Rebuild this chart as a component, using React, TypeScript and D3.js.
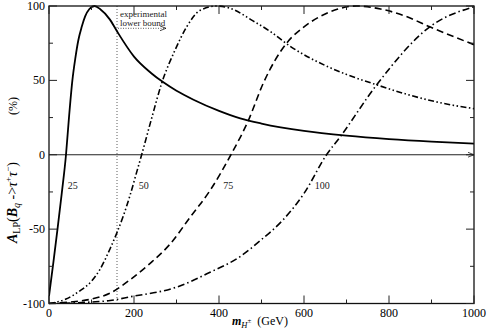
import { useEffect, useRef } from "react";
import * as d3 from "d3";

// tan beta = 25 (solid)
const m25 = [0, 10, 20, 30, 40, 47, 55, 62, 69, 77, 85, 95, 107, 120, 143, 160, 200, 240, 270, 300, 340, 400, 450, 500, 600, 700, 800, 900, 1000];
const a25 = [-95, -73, -50, -26, 0, 25, 50, 65, 77, 86, 93, 98, 100, 98, 91, 83, 66, 55, 48.5, 43, 37, 29.5, 24.5, 21, 16, 12.8, 10.5, 8.8, 7.5];

// tan beta = 50 (dash-dot-dot)
const m50 = [0, 40, 70, 100, 120, 144, 159, 175, 191, 206, 218, 242, 265, 296, 324, 355, 395, 426, 480, 520, 567, 650, 700, 771, 850, 920, 1000];
const a50 = [-100, -97, -92, -85, -77, -63, -53, -41, -27, -12, 0, 25, 48, 70, 86, 97, 100, 98.5, 90, 83, 73, 60, 54, 47, 40, 35, 31];

// tan beta = 75 (dashed)
const m75 = [0, 50, 100, 144, 191, 238, 285, 332, 379, 428, 469, 504, 559, 600, 638, 680, 724, 780, 840, 896, 1000];
const a75 = [-100, -99, -97, -93, -84, -73, -60, -42, -24, 0, 23, 48, 75, 86, 93, 98, 100, 98, 93, 86, 74];

// tan beta = 100 (dash-dot)
const m100 = [0, 100, 144, 191, 300, 379, 449, 500, 550, 600, 653, 685, 771, 896, 1000];
const a100 = [-100, -99, -98, -95.5, -89, -79, -68.6, -57, -44, -26, 0, 12, 47, 86, 99.5];

const xTicks = [0, 200, 400, 600, 800, 1000];
const xMinor = [100, 300, 500, 700, 900];
const yTicks = [-100, -50, 0, 50, 100];
const yMinor = [-75, -25, 25, 75];
const curveLabels = [
  { text: "25", m: 44, v: -23 },
  { text: "50", m: 211, v: -23 },
  { text: "75", m: 410, v: -23 },
  { text: "100", m: 625, v: -23 },
];
const boundMass = 160;

const W = 487;
const H = 334;
const font = "'Liberation Serif', 'DejaVu Serif', serif";

export default function App() {
  const ref = useRef<SVGSVGElement>(null);

  useEffect(() => {
    const svg = d3.select(ref.current);
    svg.selectAll("*").remove();

    const x = d3.scaleLinear().domain([0, 1000]).range([49, 474]);
    const y = d3.scaleLinear().domain([-100, 100]).range([303.5, 6]);

    const defs = svg.append("defs");
    defs
      .append("marker")
      .attr("id", "arr")
      .attr("viewBox", "0 0 10 10")
      .attr("refX", 10)
      .attr("refY", 5)
      .attr("markerWidth", 6)
      .attr("markerHeight", 6)
      .attr("markerUnits", "userSpaceOnUse")
      .attr("orient", "auto")
      .append("path")
      .attr("d", "M0,1 L10,5 L0,9")
      .attr("fill", "none")
      .attr("stroke", "#000")
      .attr("stroke-width", 1.2);

    defs
      .append("clipPath")
      .attr("id", "clip")
      .append("rect")
      .attr("x", x(0))
      .attr("y", y(100) - 1)
      .attr("width", x(1000) - x(0))
      .attr("height", y(-100) - y(100) + 2);

    // zero line with arrow
    svg
      .append("line")
      .attr("x1", x(0))
      .attr("x2", x(1000))
      .attr("y1", y(0))
      .attr("y2", y(0))
      .attr("stroke", "#222")
      .attr("stroke-width", 1)
      .attr("marker-end", "url(#arr)");

    // experimental lower bound
    svg
      .append("line")
      .attr("x1", x(boundMass))
      .attr("x2", x(boundMass))
      .attr("y1", y(100))
      .attr("y2", y(-100))
      .attr("stroke", "#333")
      .attr("stroke-width", 0.8)
      .attr("stroke-dasharray", "1,2");
    svg
      .append("line")
      .attr("x1", x(boundMass) + 1)
      .attr("x2", x(boundMass) + 49)
      .attr("y1", 28.3)
      .attr("y2", 28.3)
      .attr("stroke", "#333")
      .attr("stroke-width", 0.8)
      .attr("stroke-dasharray", "1,1.5")
      .attr("marker-end", "url(#arr)");
    const ann = svg
      .append("text")
      .attr("font-family", font)
      .attr("font-size", 9)
      .attr("fill", "#222");
    ann.append("tspan").attr("x", x(boundMass) + 3).attr("y", 17).text("experimental");
    ann.append("tspan").attr("x", x(boundMass) + 3).attr("y", 26).text("lower bound");

    const line = d3
      .line<[number, number]>()
      .x((d) => x(d[0]))
      .y((d) => y(d[1]))
      .curve(d3.curveMonotoneX);

    const series = [
      { m: m25, a: a25, dash: null, w: 1.8 },
      { m: m50, a: a50, dash: "6,2.5,1.5,2.5,1.5,2.5", w: 1.6 },
      { m: m75, a: a75, dash: "7,4", w: 1.6 },
      { m: m100, a: a100, dash: "7,3,1.5,3", w: 1.6 },
    ];
    const g = svg.append("g").attr("clip-path", "url(#clip)");
    series.forEach((s) => {
      const pts = s.m.map((v, i) => [v, s.a[i]] as [number, number]);
      g.append("path")
        .attr("d", line(pts))
        .attr("fill", "none")
        .attr("stroke", "#000")
        .attr("stroke-width", s.w)
        .attr("stroke-dasharray", s.dash);
    });

    // curve labels
    svg
      .selectAll("text.cl")
      .data(curveLabels)
      .join("text")
      .attr("class", "cl")
      .attr("x", (d) => x(d.m))
      .attr("y", (d) => y(d.v))
      .attr("font-family", font)
      .attr("font-size", 10)
      .attr("fill", "#222")
      .text((d) => d.text);

    // frame
    svg
      .append("rect")
      .attr("x", x(0))
      .attr("y", y(100))
      .attr("width", x(1000) - x(0))
      .attr("height", y(-100) - y(100))
      .attr("fill", "none")
      .attr("stroke", "#111")
      .attr("stroke-width", 1.3);

    const tk = svg.append("g").attr("stroke", "#222").attr("stroke-width", 1);
    const xt = [...xTicks.map((t) => ({ t, l: 8 })), ...xMinor.map((t) => ({ t, l: 4 }))];
    const yt = [...yTicks.map((t) => ({ t, l: 8 })), ...yMinor.map((t) => ({ t, l: 4 }))];
    xt.forEach(({ t, l }) => {
      tk.append("line").attr("x1", x(t)).attr("x2", x(t)).attr("y1", y(-100)).attr("y2", y(-100) - l);
      tk.append("line").attr("x1", x(t)).attr("x2", x(t)).attr("y1", y(100)).attr("y2", y(100) + l);
    });
    yt.forEach(({ t, l }) => {
      tk.append("line").attr("x1", x(0)).attr("x2", x(0) + l).attr("y1", y(t)).attr("y2", y(t));
      tk.append("line").attr("x1", x(1000)).attr("x2", x(1000) - l).attr("y1", y(t)).attr("y2", y(t));
    });

    // tick labels
    svg
      .selectAll("text.xt")
      .data(xTicks)
      .join("text")
      .attr("class", "xt")
      .attr("x", (d) => x(d))
      .attr("y", 317)
      .attr("text-anchor", "middle")
      .attr("font-family", font)
      .attr("font-size", 12)
      .text((d) => d);
    svg
      .selectAll("text.yt")
      .data(yTicks)
      .join("text")
      .attr("class", "yt")
      .attr("x", 45)
      .attr("y", (d) => y(d) + 4)
      .attr("text-anchor", "end")
      .attr("font-family", font)
      .attr("font-size", 12)
      .text((d) => d);

    // x title
    const xl = svg
      .append("text")
      .attr("x", 232)
      .attr("y", 325)
      .attr("font-family", font)
      .attr("font-size", 12);
    xl.append("tspan").attr("font-style", "italic").attr("font-weight", "bold").text("m");
    xl.append("tspan").attr("font-style", "italic").attr("font-size", 8.5).attr("dy", 3).text("H");
    xl.append("tspan").attr("font-size", 7).attr("dy", -5).text("±");
    xl.append("tspan").attr("dy", 2).text("\u00a0\u00a0(GeV)");

    // y title
    const yl = svg
      .append("text")
      .attr("transform", `translate(17,243) rotate(-90)`)
      .attr("font-family", font)
      .attr("font-size", 14);
    yl.append("tspan").attr("font-style", "italic").attr("font-weight", "bold").text("A");
    yl.append("tspan").attr("font-size", 10).attr("dy", 3).text("LP");
    yl.append("tspan").attr("dy", -3).text("(");
    yl.append("tspan").attr("font-style", "italic").attr("font-weight", "bold").text("B");
    yl.append("tspan").attr("font-style", "italic").attr("font-size", 10).attr("dy", 3).text("q");
    yl.append("tspan").attr("dy", -3).text(" ->");
    yl.append("tspan").attr("font-style", "italic").text("τ");
    yl.append("tspan").attr("font-size", 9).attr("dy", -6).text("+");
    yl.append("tspan").attr("font-style", "italic").attr("dy", 6).text("τ");
    yl.append("tspan").attr("font-size", 9).attr("dy", -6).text("−");
    yl.append("tspan").attr("dy", 6).text(")");
    svg
      .append("text")
      .attr("transform", `translate(17,106) rotate(-90)`)
      .attr("text-anchor", "middle")
      .attr("font-family", font)
      .attr("font-size", 12)
      .text("(%)");
  }, []);

  return (
    <svg
      ref={ref}
      width={W}
      height={H}
      style={{ position: "absolute", left: 0, top: 0, background: "#fff" }}
    />
  );
}
